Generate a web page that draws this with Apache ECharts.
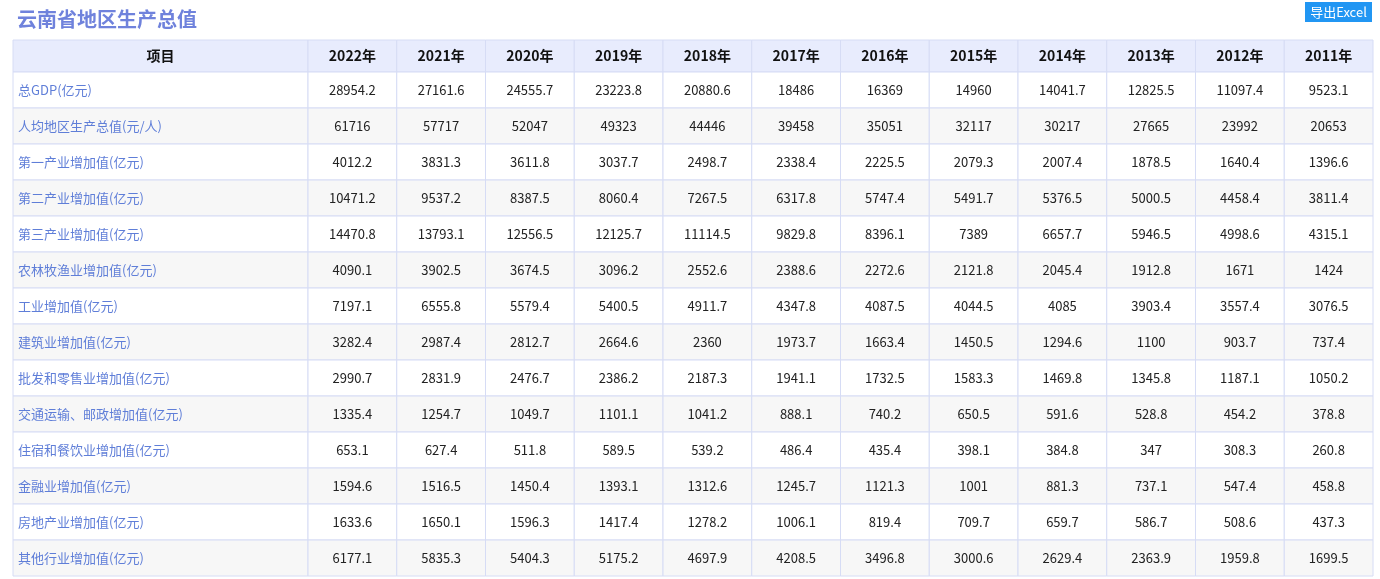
<!DOCTYPE html>
<html><head><meta charset="utf-8">
<script src="https://cdn.jsdelivr.net/npm/echarts@6/dist/echarts.min.js"></script>
<style>html,body{margin:0;padding:0;background:#fff}#main{width:1380px;height:579px}</style>
</head><body><div id="main"></div>
<script>
var years = ['2022年','2021年','2020年','2019年','2018年','2017年','2016年','2015年','2014年','2013年','2012年','2011年'];
var items = ['总GDP(亿元)','人均地区生产总值(元/人)','第一产业增加值(亿元)','第二产业增加值(亿元)','第三产业增加值(亿元)','农林牧渔业增加值(亿元)','工业增加值(亿元)','建筑业增加值(亿元)','批发和零售业增加值(亿元)','交通运输、邮政增加值(亿元)','住宿和餐饮业增加值(亿元)','金融业增加值(亿元)','房地产业增加值(亿元)','其他行业增加值(亿元)'];
var values = [
  ['28954.2','27161.6','24555.7','23223.8','20880.6','18486','16369','14960','14041.7','12825.5','11097.4','9523.1'],
  ['61716','57717','52047','49323','44446','39458','35051','32117','30217','27665','23992','20653'],
  ['4012.2','3831.3','3611.8','3037.7','2498.7','2338.4','2225.5','2079.3','2007.4','1878.5','1640.4','1396.6'],
  ['10471.2','9537.2','8387.5','8060.4','7267.5','6317.8','5747.4','5491.7','5376.5','5000.5','4458.4','3811.4'],
  ['14470.8','13793.1','12556.5','12125.7','11114.5','9829.8','8396.1','7389','6657.7','5946.5','4998.6','4315.1'],
  ['4090.1','3902.5','3674.5','3096.2','2552.6','2388.6','2272.6','2121.8','2045.4','1912.8','1671','1424'],
  ['7197.1','6555.8','5579.4','5400.5','4911.7','4347.8','4087.5','4044.5','4085','3903.4','3557.4','3076.5'],
  ['3282.4','2987.4','2812.7','2664.6','2360','1973.7','1663.4','1450.5','1294.6','1100','903.7','737.4'],
  ['2990.7','2831.9','2476.7','2386.2','2187.3','1941.1','1732.5','1583.3','1469.8','1345.8','1187.1','1050.2'],
  ['1335.4','1254.7','1049.7','1101.1','1041.2','888.1','740.2','650.5','591.6','528.8','454.2','378.8'],
  ['653.1','627.4','511.8','589.5','539.2','486.4','435.4','398.1','384.8','347','308.3','260.8'],
  ['1594.6','1516.5','1450.4','1393.1','1312.6','1245.7','1121.3','1001','881.3','737.1','547.4','458.8'],
  ['1633.6','1650.1','1596.3','1417.4','1278.2','1006.1','819.4','709.7','659.7','586.7','508.6','437.3'],
  ['6177.1','5835.3','5404.3','5175.2','4697.9','4208.5','3496.8','3000.6','2629.4','2363.9','1959.8','1699.5']
];

var FIRST = 295 / 88.75; // first column width in year-column units
var HEAD = 32, ROW = 36;
var cells = [];
cells.push([0, 0, '项目']);
years.forEach(function(y, j){ cells.push([j + 1, 0, y]); });
items.forEach(function(it, i){
    cells.push([0, i + 1, it]);
    values[i].forEach(function(v, j){ cells.push([j + 1, i + 1, v]); });
});

var chart = echarts.init(document.getElementById('main'));
chart.setOption({
    animation: false,
    title: { text: '云南省地区生产总值', left: 12, top: 4,
        textStyle: { color: '#6f82dc', fontSize: 20, fontWeight: 'bold', fontFamily: 'Noto Sans CJK SC' } },
    graphic: [{
        type: 'group', right: 8, top: 2,
        children: [
            { type: 'rect', shape: { x: 0, y: 0, width: 67, height: 20 }, style: { fill: '#2196f3' } },
            { type: 'text', x: 33.5, y: 10, style: { text: '导出Excel', fill: '#fff', fontSize: 13,
                fontFamily: 'Noto Sans CJK SC', align: 'center', verticalAlign: 'middle' } }
        ]
    }],
    grid: { left: 13, right: 7, top: 40, bottom: 3 },
    xAxis: { type: 'value', min: 0, max: FIRST + years.length, show: false },
    yAxis: { type: 'value', min: 0, max: HEAD + ROW * items.length, inverse: true, show: false },
    series: [{
        type: 'custom',
        data: cells,
        renderItem: function(params, api){
            var c = api.value(0), r = api.value(1);
            var text = cells[params.dataIndex][2];
            var x0 = c === 0 ? 0 : FIRST + c - 1, x1 = c === 0 ? FIRST : FIRST + c;
            var y0 = r === 0 ? 0 : HEAD + (r - 1) * ROW, y1 = r === 0 ? HEAD : HEAD + r * ROW;
            var p0 = api.coord([x0, y0]), p1 = api.coord([x1, y1]);
            var fill = r === 0 ? '#e8ecfd' : (r % 2 === 0 ? '#f7f7f7' : '#ffffff');
            var left = c === 0 && r > 0;
            return {
                type: 'group',
                children: [
                    { type: 'rect', shape: { x: p0[0], y: p0[1], width: p1[0] - p0[0], height: p1[1] - p0[1] },
                      style: { fill: fill, stroke: '#d6dcf5', lineWidth: 1 } },
                    { type: 'text', x: left ? p0[0] + 5 : (p0[0] + p1[0]) / 2, y: (p0[1] + p1[1]) / 2,
                      style: { text: text, align: left ? 'left' : 'center', verticalAlign: 'middle',
                        fill: r === 0 ? '#111' : (c === 0 ? '#5f7ed8' : '#222'),
                        fontSize: r === 0 ? 14 : 13, fontWeight: r === 0 ? 'bold' : 'normal',
                        fontFamily: 'Noto Sans CJK SC' } }
                ]
            };
        }
    }]
});
</script></body></html>
